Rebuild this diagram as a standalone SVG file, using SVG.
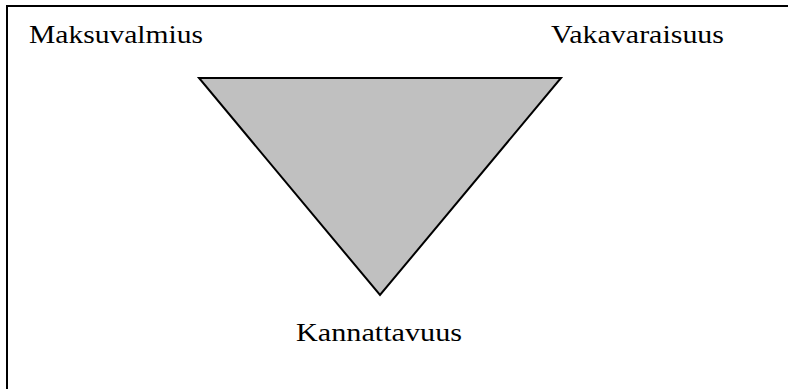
<svg xmlns="http://www.w3.org/2000/svg" width="788" height="389" viewBox="0 0 788 389">
<style>
.lbl{font-family:"Liberation Serif","DejaVu Serif",serif;font-size:26px;fill:#000}
</style>
<rect width="788" height="389" fill="#fff"/>
<g id="frame"><path d="M7,389 V6 H788" fill="none" stroke="#000" stroke-width="2"/></g>
<g id="triangle"><polygon points="199,78 561,78 380,295" fill="#c0c0c0" stroke="#000" stroke-width="2" stroke-linejoin="miter"/></g>
<g id="maksuvalmius"><text class="lbl" x="29" y="43" textLength="174" lengthAdjust="spacingAndGlyphs">Maksuvalmius</text></g>
<g id="vakavaraisuus"><text class="lbl" x="551" y="43" textLength="173" lengthAdjust="spacingAndGlyphs">Vakavaraisuus</text></g>
<g id="kannattavuus"><text class="lbl" x="296" y="341" textLength="166" lengthAdjust="spacingAndGlyphs">Kannattavuus</text></g>
</svg>
